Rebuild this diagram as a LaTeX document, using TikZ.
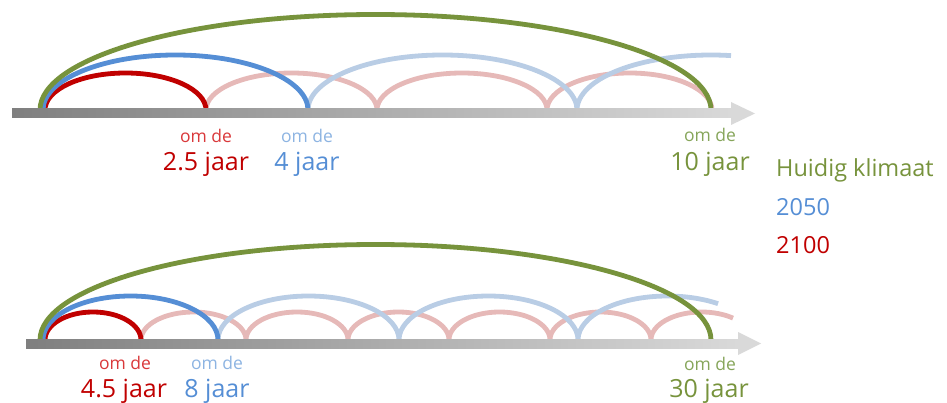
\documentclass[tikz,border=0pt]{standalone}
\usepackage{fontspec}
\setmainfont{Open Sans}
\definecolor{cgreen}{HTML}{77933C}
\definecolor{cblue}{HTML}{558ED5}
\definecolor{cbluelight}{HTML}{B9CDE5}
\definecolor{cred}{HTML}{C00000}
\definecolor{credlight}{HTML}{E6B9B8}
\definecolor{omred}{HTML}{D9383A}
\definecolor{omblue}{HTML}{8DB4E2}
\definecolor{omgreen}{HTML}{86A55A}
\definecolor{barL}{HTML}{7F7F7F}
\definecolor{barR}{HTML}{D9D9D9}
\begin{document}
\begin{tikzpicture}[x=1pt,y=-1pt,
  arcline/.style={line width=4.8pt},
  omde/.style={font=\fontsize{17.5}{20}\selectfont, anchor=base, inner sep=0pt},
  yrs/.style={font=\fontsize{25}{28}\selectfont, anchor=base, inner sep=0pt},
  leg/.style={font=\fontsize{23.5}{26}\selectfont, anchor=base west, inner sep=0pt}]
\useasboundingbox (0,0) rectangle (947,403);

% ===== top timeline =====
% light red (2100, every 2.5 years)
\draw[arcline, credlight]
  (206,110) arc[start angle=180, end angle=360, x radius=85.5, y radius=37]
  (377,110) arc[start angle=180, end angle=360, x radius=85, y radius=37]
  (547,110) arc[start angle=180, end angle=360, x radius=82.5, y radius=37];
% light blue (2050, every 4 years)
\draw[arcline, cbluelight]
  (308,110) arc[start angle=180, end angle=360, x radius=134.5, y radius=55]
  (577,110) arc[start angle=180, end angle=278.6, x radius=134, y radius=55];
% dark arcs
\draw[arcline, cred] (45,110) arc[start angle=180, end angle=360, x radius=80.5, y radius=37];
\draw[arcline, cblue] (43,110) arc[start angle=180, end angle=360, x radius=132.5, y radius=55];
\draw[arcline, cgreen] (40,110) arc[start angle=180, end angle=360, x radius=335.5, y radius=95.5];
% bar
\shade[left color=barL, right color=barR] (12,109) rectangle (731,118);
\fill[barR] (731,102) -- (755,113.5) -- (731,125) -- cycle;

\node[omde, text=omred] (topomr) at (206,142.5) {om de};
\node[yrs, text=cred] (topyrr) at (206,171) {2.5 jaar};
\node[omde, text=omblue] (topomb) at (307,142.5) {om de};
\node[yrs, text=cblue] (topyrb) at (307,171) {4 jaar};
\node[omde, text=omgreen] (topomg) at (710,142) {om de};
\node[yrs, text=cgreen] (topyrg) at (710,170.5) {10 jaar};

% ===== legend =====
\node[leg, text=cgreen] (legg) at (776,176.5) {Huidig klimaat};
\node[leg, text=cblue] (legb) at (776,216) {2050};
\node[leg, text=cred] (legr) at (776,254) {2100};

% ===== bottom timeline =====
\draw[arcline, credlight]
  (141,340) arc[start angle=180, end angle=360, x radius=52.5, y radius=28]
  (246,340) arc[start angle=180, end angle=360, x radius=51, y radius=28]
  (348,340) arc[start angle=180, end angle=360, x radius=50.5, y radius=28]
  (449,340) arc[start angle=180, end angle=360, x radius=50.5, y radius=28]
  (550,340) arc[start angle=180, end angle=360, x radius=50.5, y radius=28]
  (651,340) arc[start angle=180, end angle=308.6, x radius=50.5, y radius=28];
\draw[arcline, cbluelight]
  (218,340) arc[start angle=180, end angle=360, x radius=90.5, y radius=44]
  (399,340) arc[start angle=180, end angle=360, x radius=89.5, y radius=44]
  (578,340) arc[start angle=180, end angle=304.4, x radius=89.5, y radius=44];
\draw[arcline, cred] (45,340) arc[start angle=180, end angle=360, x radius=48, y radius=28];
\draw[arcline, cblue] (43,340) arc[start angle=180, end angle=360, x radius=87.5, y radius=44];
\draw[arcline, cgreen] (40,340) arc[start angle=180, end angle=360, x radius=335.5, y radius=95.5];
\shade[left color=barL, right color=barR] (26,339) rectangle (738,348);
\fill[barR] (738,332) -- (761,343.5) -- (738,355) -- cycle;

\node[omde, text=omred] (botomr) at (125,369.5) {om de};
\node[yrs, text=cred] (botyrr) at (124,397) {4.5 jaar};
\node[omde, text=omblue] (botomb) at (217,369.5) {om de};
\node[yrs, text=cblue] (botyrb) at (217,397) {8 jaar};
\node[omde, text=omgreen] (botomg) at (710,370) {om de};
\node[yrs, text=cgreen] (botyrg) at (709,397.5) {30 jaar};
\end{tikzpicture}
\end{document}
